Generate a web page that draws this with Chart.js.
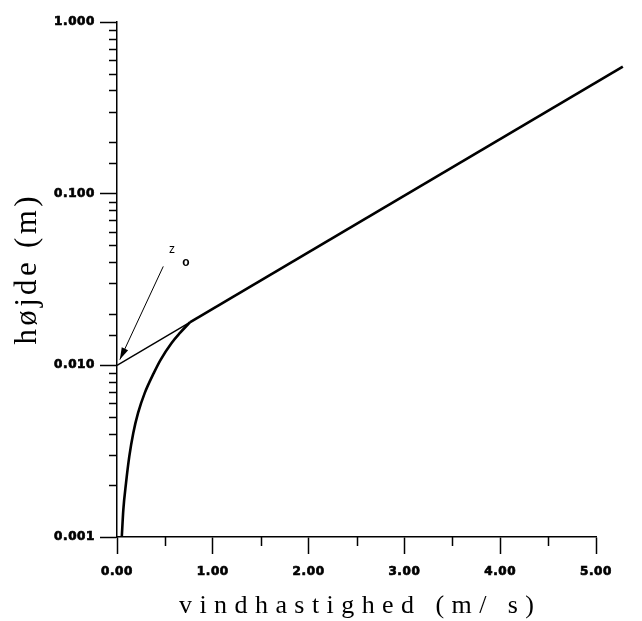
<!DOCTYPE html>
<html><head><meta charset="utf-8">
<script src="https://cdn.jsdelivr.net/npm/chart.js@4/dist/chart.umd.min.js"></script>
<style>html,body{margin:0;padding:0;background:#fff;}canvas{display:block;}</style>
</head><body>
<canvas id="c" width="642" height="621"></canvas>
<script>
// logarithmic wind profile, starting at z0
const logSpeed = [0.0, 0.76, 5.28];
const logHeight = [0.01, 0.0178, 0.55];
// near-surface profile curve
const curveSpeed = [0.05, 0.066, 0.094, 0.128, 0.17, 0.22, 0.29, 0.385, 0.455, 0.57, 0.66, 0.76];
const curveHeight = [0.001, 0.00144, 0.00206, 0.00294, 0.00404, 0.00528, 0.00691, 0.00904, 0.01077, 0.0135, 0.0155, 0.0178];
// z0 pointer arrow (tail, tip)
const arrowSpeed = [0.483, 0.03];
const arrowHeight = [0.0377, 0.0108];
// tick labels
const xTickValues = [0, 1, 2, 3, 4, 5];
const xTickLabels = ['0.00', '1.00', '2.00', '3.00', '4.00', '5.00'];
const yTickValues = [0.001, 0.01, 0.1, 1];
const yTickLabels = ['0.001', '0.010', '0.100', '1.000'];
const xTitle = 'vindhastighed (m/ s)';
const yTitle = 'højde (m)';
const z0Text = ['z', 'o'];
const z0TextSpeed = [0.574, 0.72];
const z0TextHeight = [0.0472, 0.0395];

const toPts = (xs, ys) => xs.map((v, i) => ({x: v, y: ys[i]}));
const findIdx = (arr, v) => arr.findIndex(t => Math.abs(t - v) <= Math.abs(t) * 1e-6 + 1e-9);

const deco = {
  id: 'deco',
  beforeDraw(chart) { chart.ctx.letterSpacing = '0.6px'; },
  afterDraw(chart) {
    const ctx = chart.ctx, x = chart.scales.x, y = chart.scales.y, ca = chart.chartArea;
    ctx.save();
    ctx.letterSpacing = '0px';
    ctx.strokeStyle = '#000';
    ctx.fillStyle = '#000';
    ctx.lineWidth = 1.5;
    ctx.beginPath();
    x.ticks.forEach(t => {
      if (findIdx(xTickValues, t.value) < 0) {
        const px = Math.round(x.getPixelForValue(t.value)) + 0.5;
        ctx.moveTo(px, ca.bottom); ctx.lineTo(px, ca.bottom + 9);
      }
    });
    y.ticks.forEach(t => {
      if (findIdx(yTickValues, t.value) < 0) {
        const py = Math.round(y.getPixelForValue(t.value)) + 0.5;
        ctx.moveTo(ca.left, py); ctx.lineTo(ca.left - 8, py);
      }
    });
    ctx.stroke();

    // arrow head
    const tx = x.getPixelForValue(arrowSpeed[1]), ty = y.getPixelForValue(arrowHeight[1]);
    const sx = x.getPixelForValue(arrowSpeed[0]), sy = y.getPixelForValue(arrowHeight[0]);
    const a = Math.atan2(ty - sy, tx - sx);
    const L = 12, W = 3.5;
    ctx.beginPath();
    ctx.moveTo(tx, ty);
    ctx.lineTo(tx - L * Math.cos(a) + W * Math.sin(a), ty - L * Math.sin(a) - W * Math.cos(a));
    ctx.lineTo(tx - L * Math.cos(a) - W * Math.sin(a), ty - L * Math.sin(a) + W * Math.cos(a));
    ctx.closePath();
    ctx.fill();

    // z0 label
    ctx.textAlign = 'center';
    ctx.textBaseline = 'middle';
    ctx.font = '12px "Liberation Sans"';
    ctx.fillText(z0Text[0], x.getPixelForValue(z0TextSpeed[0]), y.getPixelForValue(z0TextHeight[0]));
    ctx.font = 'bold 12px "Liberation Sans"';
    ctx.fillText(z0Text[1], x.getPixelForValue(z0TextSpeed[1]), y.getPixelForValue(z0TextHeight[1]));

    // axis titles
    ctx.textAlign = 'left';
    ctx.textBaseline = 'alphabetic';
    ctx.font = '26px "Liberation Serif"';
    let nat = ctx.measureText(xTitle).width;
    let w = 355;
    ctx.letterSpacing = ((w - nat) / (xTitle.length - 1)) + 'px';
    ctx.fillText(xTitle, (ca.left + ca.right) / 2 - w / 2, 613);

    ctx.letterSpacing = '0px';
    ctx.font = '31px "Liberation Serif"';
    nat = ctx.measureText(yTitle).width;
    w = 148;
    ctx.letterSpacing = ((w - nat) / (yTitle.length - 1)) + 'px';
    ctx.translate(36, (ca.top + ca.bottom) / 2 + w / 2 - 9);
    ctx.rotate(-Math.PI / 2);
    ctx.fillText(yTitle, 0, 0);
    ctx.restore();
  }
};

const tickFont = {family: '"DejaVu Sans"', size: 12, weight: 'bold'};

new Chart(document.getElementById('c'), {
  type: 'scatter',
  data: {
    datasets: [
      {
        data: toPts(curveSpeed, curveHeight),
        showLine: true, borderColor: '#000', borderWidth: 2.6, pointRadius: 0,
        tension: 0.4, cubicInterpolationMode: 'monotone', clip: false
      },
      {
        data: toPts(logSpeed, logHeight),
        showLine: true, borderColor: '#000', borderWidth: 2.6, pointRadius: 0, clip: false,
        segment: {borderWidth: c => c.p0DataIndex === 0 ? 1.4 : 2.6}
      },
      {
        data: toPts(arrowSpeed, arrowHeight),
        showLine: true, borderColor: '#000', borderWidth: 1, pointRadius: 0, clip: false
      }
    ]
  },
  options: {
    responsive: false, animation: false, devicePixelRatio: 1,
    layout: {padding: {left: 0, right: 46, top: 22, bottom: 0}},
    plugins: {legend: {display: false}, tooltip: {enabled: false}},
    scales: {
      x: {
        type: 'linear', min: 0, max: 5,
        afterFit: s => { s.height = 84; },
        border: {display: true, color: '#000', width: 1.5},
        grid: {drawOnChartArea: false, drawTicks: true, tickLength: 17, tickWidth: 1.5,
          tickColor: c => (c.tick && findIdx(xTickValues, c.tick.value) >= 0) ? '#000' : 'rgba(0,0,0,0)'},
        ticks: {stepSize: 0.5, autoSkip: false, maxRotation: 0, padding: 11, color: '#000', font: tickFont,
          textStrokeColor: '#000', textStrokeWidth: 0.7,
          callback: v => { const i = findIdx(xTickValues, v); return i >= 0 ? xTickLabels[i] : ''; }}
      },
      y: {
        type: 'logarithmic', min: 0.001, max: 1,
        afterFit: s => { s.width = 117; },
        border: {display: true, color: '#000', width: 1.5},
        grid: {drawOnChartArea: false, drawTicks: true, tickLength: 17, tickWidth: 1.5,
          tickColor: c => (c.tick && findIdx(yTickValues, c.tick.value) >= 0) ? '#000' : 'rgba(0,0,0,0)'},
        ticks: {autoSkip: false, padding: 5, color: '#000', font: tickFont,
          textStrokeColor: '#000', textStrokeWidth: 0.7,
          callback: v => { const i = findIdx(yTickValues, v); return i >= 0 ? yTickLabels[i] : ''; }}
      }
    }
  },
  plugins: [deco]
});
</script>
</body></html>
